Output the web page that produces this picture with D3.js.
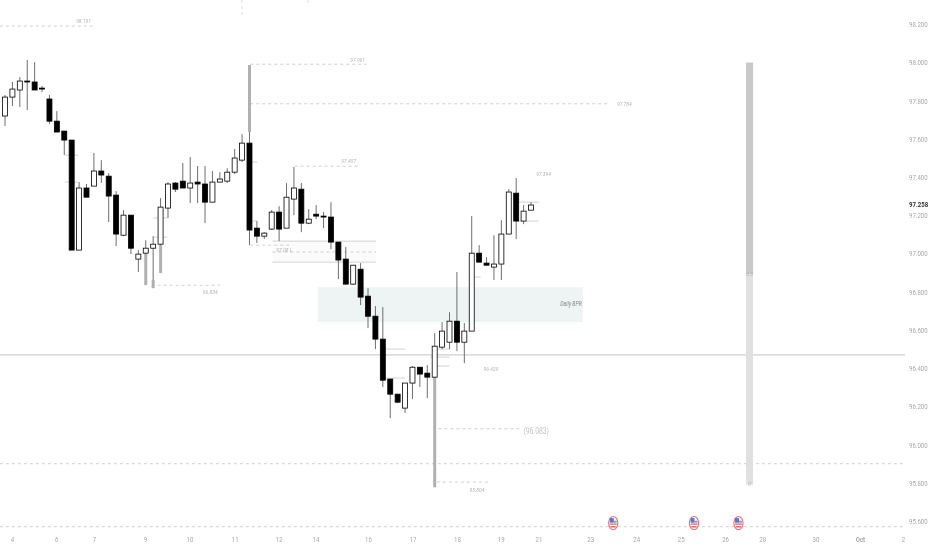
<!DOCTYPE html>
<html>
<head>
<meta charset="utf-8">
<script src="https://cdn.jsdelivr.net/npm/d3@7"></script>
<style>
html, body { margin: 0; padding: 0; background: #fff; }
svg { display: block; filter: blur(0.35px); }
text { font-family: Roboto, sans-serif; }
</style>
</head>
<body>
<div id="chart"></div>
<script>
// candles, one entry per bar
var opens = [97.720,97.819,97.856,97.903,97.898,97.866,97.809,97.693,97.641,97.594,97.018,97.343,97.353,97.432,97.405,97.306,97.096,97.201,96.971,97.002,97.028,97.049,97.238,97.369,97.379,97.343,97.374,97.364,97.269,97.374,97.379,97.426,97.489,97.578,97.133,97.091,97.128,97.217,97.133,97.285,97.337,97.159,97.206,97.196,97.191,97.060,96.971,96.840,96.918,96.777,96.672,96.552,96.343,96.264,96.191,96.322,96.405,96.374,96.353,96.510,96.536,96.646,96.536,96.594,97.002,96.950,96.929,96.945,97.102,97.316,97.170,97.227];
var highs = [97.830,97.898,97.924,98.013,98.002,97.877,97.830,97.746,97.641,97.594,97.374,97.364,97.526,97.489,97.421,97.327,97.227,97.201,97.018,97.070,97.091,97.290,97.374,97.374,97.474,97.505,97.458,97.458,97.432,97.426,97.447,97.547,97.625,97.987,97.170,97.112,97.227,97.248,97.369,97.453,97.369,97.233,97.254,97.217,97.269,97.060,97.034,96.939,96.950,96.819,96.725,96.720,96.343,96.264,96.322,96.411,96.405,96.416,96.583,96.641,96.693,96.903,96.636,97.196,97.044,96.981,97.096,97.175,97.337,97.395,97.254,97.269];
var lows = [97.667,97.772,97.767,97.751,97.856,97.845,97.678,97.636,97.515,97.018,97.018,97.295,97.353,97.369,97.165,97.039,97.091,96.997,96.903,96.835,96.819,96.898,97.186,97.322,97.343,97.264,97.264,97.159,97.269,97.374,97.369,97.416,97.479,97.044,97.055,97.076,97.123,97.065,97.133,97.201,97.112,97.154,97.180,97.133,97.023,96.866,96.835,96.835,96.730,96.610,96.500,96.301,96.138,96.217,96.165,96.238,96.301,96.243,95.777,96.500,96.500,96.489,96.426,96.594,96.955,96.939,96.861,96.861,97.102,97.076,97.154,97.227];
var closes = [97.819,97.861,97.903,97.898,97.856,97.861,97.693,97.636,97.594,97.018,97.343,97.295,97.432,97.411,97.301,97.102,97.201,97.028,96.997,97.028,97.049,97.243,97.364,97.337,97.343,97.369,97.364,97.269,97.374,97.390,97.426,97.500,97.578,97.123,97.091,97.107,97.217,97.128,97.295,97.343,97.159,97.180,97.196,97.191,97.060,96.966,96.840,96.939,96.772,96.672,96.552,96.337,96.264,96.222,96.322,96.405,96.369,96.353,96.515,96.594,96.646,96.536,96.594,97.002,96.955,96.939,96.945,97.102,97.322,97.170,97.222,97.254];

// grey overlays on the long wicks
var wickBars = [19, 20, 21, 33, 58];
var wickTops = [97.002, 96.861, 97.044, 97.987, 96.353];
var wickBottoms = [96.835, 96.819, 96.898, 97.636, 95.777];

// price and time axes
var priceTicks = [98.2, 98.0, 97.8, 97.6, 97.4, 97.2, 97.0, 96.8, 96.6, 96.4, 96.2, 96.0, 95.8, 95.6];
var lastPrice = 97.258;
var timeBars = [0.95, 6.9, 12, 18.9, 24.9, 31, 36.9, 41.9, 49, 55, 61, 66.9, 72, 79, 85.2, 91.2, 97.2, 102.2, 109.4, 115.4, 121.2];
var timeLabels = ["4", "6", "7", "9", "10", "11", "12", "14", "16", "17", "18", "19", "21", "23", "24", "25", "26", "28", "30", "Oct", "2"];

// dashed levels
var dashStarts = [-0.7, 33.1, 33.1, 39.1, 19.8, 58.5, 58.3, -0.7, -0.7, 36.1, 33.1];
var dashEnds = [11.8, 48.8, 81.7, 47.9, 29, 69.7, 65.4, 121.5, 121.5, 50.1, 38.8];
var dashPrices = [98.191, 97.991, 97.784, 97.457, 96.834, 96.083, 95.804, 95.9, 95.57, 97.008, 97.044];

// thin short levels next to the candles
var minorStarts = [8.1, 8.1, 20, 20, 33.1, 33.1, 51.4, 51.3, 58, 57.4, 58, 62.7, 69.3, 69.3, 36.1, 36.1];
var minorEnds = [9.9, 9.9, 21.9, 21.9, 34.1, 34.1, 54, 54, 60, 60, 60, 64.2, 72.1, 72.1, 50.1, 50.1];
var minorPrices = [97.515, 97.374, 97.186, 97.086, 97.479, 97.170, 96.5, 96.348, 96.5, 96.458, 96.411, 96.877, 97.269, 97.170, 97.065, 96.955];

var midLine = 96.47;

// zones
var zoneStarts = [42.2, 36.1];
var zoneEnds = [78, 50.1];
var zoneTops = [96.824, 97.065];
var zoneBottoms = [96.641, 96.955];

// fib column on the right
var fibBar = 100.5;
var fibTop = 98.0;
var fibMid = 96.89;
var fibBottom = 95.79;

// text on the chart
var noteTexts = ["98.191", "97.991", "97.784", "97.457", "97.394", "96.834", "97.08 L", "96.429", "95.804", "0.5", "0"];
var noteBars = [10.6, 47.6, 83.6, 46.4, 72.7, 27.7, 37.7, 65.6, 63.7, 100.5, 100.5];
var notePrices = [98.217, 98.013, 97.782, 97.484, 97.416, 96.798, 97.018, 96.395, 95.761, 96.892, 95.793];

// news events
var eventBars = [82.1, 93, 99];
var eventPrice = 95.589;

var width = 932, height = 550;
var svg = d3.select("#chart").append("svg").attr("width", width).attr("height", height);

var x = d3.scaleLinear().domain([0, 71]).range([5, 531]);
var y = d3.scaleLinear().domain([95.6, 98.2]).range([521, 24.3]);

// the chart labels are set in a condensed face
function condense(sel) {
    sel.each(function () {
        d3.select(this).attr("lengthAdjust", "spacingAndGlyphs").attr("textLength", this.getComputedTextLength() * 0.8);
    });
}

// zones
zoneStarts.forEach(function (s, i) {
    svg.append("rect").attr("x", x(s)).attr("width", x(zoneEnds[i]) - x(s))
        .attr("y", y(zoneTops[i])).attr("height", y(zoneBottoms[i]) - y(zoneTops[i]))
        .attr("fill", i == 0 ? "#eef3f3" : "#fbfbfb");
});

// horizontal lines
svg.append("line").attr("x1", 0).attr("x2", x(121.5)).attr("y1", y(midLine)).attr("y2", y(midLine))
    .attr("stroke", "#cfcfcf").attr("stroke-width", 1.2);
dashStarts.forEach(function (s, i) {
    svg.append("line").attr("x1", x(s)).attr("x2", x(dashEnds[i])).attr("y1", y(dashPrices[i])).attr("y2", y(dashPrices[i]))
        .attr("stroke", "#c4c4c4").attr("stroke-width", 0.8).attr("stroke-dasharray", "3 3");
});
minorStarts.forEach(function (s, i) {
    svg.append("line").attr("x1", x(s)).attr("x2", x(minorEnds[i])).attr("y1", y(minorPrices[i])).attr("y2", y(minorPrices[i]))
        .attr("stroke", "#c8c8c8").attr("stroke-width", 0.8);
});

// session marks at the top edge
svg.append("line").attr("x1", x(32)).attr("x2", x(32)).attr("y1", y(98.327)).attr("y2", y(98.233))
    .attr("stroke", "#d0d0d0").attr("stroke-width", 0.8).attr("stroke-dasharray", "3 3");
svg.append("line").attr("x1", x(40.9)).attr("x2", x(40.9)).attr("y1", y(98.327)).attr("y2", y(98.312))
    .attr("stroke", "#d0d0d0").attr("stroke-width", 0.8);

// fib column
svg.append("rect").attr("x", x(fibBar) - 3.5).attr("width", 7).attr("y", y(fibTop)).attr("height", y(fibMid) - y(fibTop)).attr("fill", "#c9c9c9");
svg.append("rect").attr("x", x(fibBar) - 3.5).attr("width", 7).attr("y", y(fibMid)).attr("height", y(fibBottom) - y(fibMid)).attr("fill", "#e0e0e0");

// candles
var bars = d3.range(opens.length);
svg.append("g").selectAll("line").data(bars).enter().append("line")
    .attr("x1", function (d) { return x(d); })
    .attr("x2", function (d) { return x(d); })
    .attr("y1", function (d) { return y(highs[d]); })
    .attr("y2", function (d) { return y(lows[d]); })
    .attr("stroke", "#6e6e6e").attr("stroke-width", 1);
svg.append("g").selectAll("line").data(wickBars).enter().append("line")
    .attr("x1", function (d) { return x(d); })
    .attr("x2", function (d) { return x(d); })
    .attr("y1", function (d, i) { return y(wickTops[i]); })
    .attr("y2", function (d, i) { return y(wickBottoms[i]); })
    .attr("stroke", "#b0b0b0").attr("stroke-width", 3);
svg.append("g").selectAll("rect").data(bars).enter().append("rect")
    .attr("x", function (d) { return x(d) - 2.5; })
    .attr("width", 5)
    .attr("y", function (d) { return y(Math.max(opens[d], closes[d])); })
    .attr("height", function (d) { return Math.max(0.6, Math.abs(y(opens[d]) - y(closes[d]))); })
    .attr("fill", function (d) { return closes[d] < opens[d] ? "#000" : "#fff"; })
    .attr("stroke", "#000").attr("stroke-width", 0.8);

// chart notes
noteTexts.forEach(function (t, i) {
    svg.append("text").attr("x", x(noteBars[i])).attr("y", y(notePrices[i])).attr("dy", "0.35em")
        .attr("text-anchor", "middle").attr("font-size", 6.2).attr("font-style", "italic")
        .attr("fill", "#b4b4b4").text(t).call(condense);
});
svg.append("text").attr("x", x(71.7)).attr("y", y(96.07)).attr("dy", "0.35em").attr("text-anchor", "middle")
    .attr("font-size", 8.5).attr("fill", "#c4c4c4").text("(96.083)").call(condense);
svg.append("text").attr("x", x(76.4)).attr("y", y(96.735)).attr("dy", "0.35em").attr("text-anchor", "middle")
    .attr("font-size", 6.5).attr("font-style", "italic").attr("fill", "#888").text("Daily BPR").call(condense);

// news flags
var flags = svg.append("g").selectAll("g").data(eventBars).enter().append("g")
    .attr("transform", function (d) { return "translate(" + x(d) + "," + y(eventPrice) + ")"; });
flags.append("ellipse").attr("rx", 4.6).attr("ry", 6.6).attr("fill", "#fff").attr("stroke", "#ef6f73").attr("stroke-width", 1.1);
flags.append("rect").attr("x", -3.4).attr("y", -5).attr("width", 4).attr("height", 4.6).attr("fill", "#4a7fd0");
flags.append("rect").attr("x", 0.6).attr("y", -2.4).attr("width", 2.9).attr("height", 2).attr("fill", "#7aa0dc");
flags.append("rect").attr("x", -3.4).attr("y", 0.4).attr("width", 6.9).attr("height", 1.2).attr("fill", "#e8585c");
flags.append("rect").attr("x", -2.6).attr("y", 3).attr("width", 5.2).attr("height", 1.4).attr("fill", "#e8585c");

// axes
var priceAxis = d3.axisRight(y).tickValues(priceTicks).tickSize(0).tickPadding(0).tickFormat(d3.format(".3f"));
var priceG = svg.append("g").attr("transform", "translate(909,0)").call(priceAxis);
priceG.select(".domain").remove();
priceG.selectAll("text").attr("font-size", 7.6).attr("fill", "#a8a8a8").style("font-family", "Roboto, sans-serif").call(condense);
svg.append("text").attr("x", 909).attr("y", y(lastPrice)).attr("dy", "0.32em").attr("font-size", 7.6)
    .attr("font-weight", 700).attr("fill", "#333").text(d3.format(".3f")(lastPrice)).call(condense);

var timeAxis = d3.axisBottom(x).tickValues(timeBars).tickSize(0).tickPadding(0)
    .tickFormat(function (d, i) { return timeLabels[i]; });
var timeG = svg.append("g").attr("transform", "translate(0,537)").call(timeAxis);
timeG.select(".domain").remove();
timeG.selectAll("text").attr("font-size", 7.6).attr("fill", "#a8a8a8").style("font-family", "Roboto, sans-serif")
    .attr("font-weight", function (d, i) { return timeLabels[i] == "Oct" ? 700 : 400; }).call(condense);
</script>
</body>
</html>
